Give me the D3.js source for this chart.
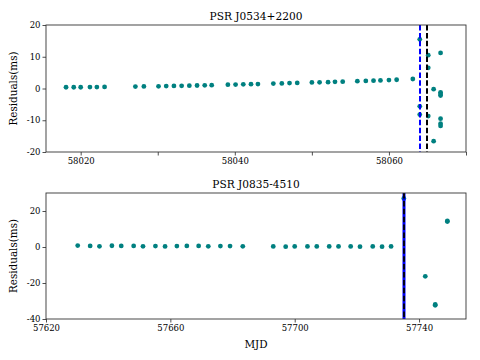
<!DOCTYPE html>
<html><head><meta charset="utf-8">
<script src="https://cdn.jsdelivr.net/npm/d3@7"></script>
<style>body{margin:0;background:#fff}svg{display:block}text{font-family:"DejaVu Serif",serif;fill:#000}</style>
</head><body><svg id="c" width="480" height="360"></svg>
<script>
// Panel 1: PSR J0534+2200
const crabMJD = [58018.1,58019.1,58020.0,58021.2,58022.1,58023.1,58027.1,58028.2,
  58030.1,58031.1,58032.1,58033.1,58034.1,58035.1,58036.1,58037.0,
  58039.1,58040.1,58041.1,58042.1,58043.0,58045.0,58046.1,58047.1,58048.1,
  58050.0,58051.0,58052.1,58053.0,58054.0,58055.9,58057.0,58058.0,58058.9,58060.0,58061.0,58063.1,
  58064.0,58064.0,58064.0,58065.1,58065.1,58065.1,58065.8,58065.8,
  58066.7,58066.7,58066.7,58066.7,58066.7,58066.7,58066.7];
const crabRes = [0.4,0.4,0.4,0.45,0.45,0.5,0.6,0.65,
  0.7,0.75,0.8,0.85,0.9,0.95,1.0,1.05,
  1.2,1.25,1.3,1.35,1.4,1.55,1.6,1.7,1.75,
  1.9,1.95,2.0,2.1,2.15,2.3,2.4,2.45,2.55,2.65,2.75,3.0,
  15.5,-5.6,-8.2,10.5,6.5,-8.7,-0.2,-16.6,
  11.2,-1.2,-1.7,-2.2,-9.5,-11.1,-11.8];
const crabLines = [{mjd:58064.0,color:"#0000ff"},{mjd:58065.0,color:"#000000"}];
const crabXTicks = [58020,58030,58040,58050,58060,58070];
const crabXLabels = ["58020","","58040","","58060",""];
const crabYTicks = [-20,-10,0,10,20];

// Panel 2: PSR J0835-4510
const velaMJD = [57630.2,57634.2,57637.2,57641.2,57644.2,57648.2,57651.2,57655.2,57658.3,57662.1,
  57665.3,57669.1,57672.2,57676.1,57679.2,57683.3,57693.1,57697.1,57700.0,57704.1,
  57707.1,57711.1,57714.1,57718.0,57721.0,57725.1,57728.1,57731.0,
  57735.1,57742.0,57745.2,57745.2,57749.1,57749.1];
const velaRes = [0.8,0.6,0.4,0.7,0.6,0.6,0.4,0.5,0.3,0.5,
  0.6,0.6,0.4,0.5,0.5,0.4,0.3,0.2,0.3,0.3,
  0.3,0.3,0.3,0.3,0.2,0.3,0.2,0.3,
  27.0,-16.3,-31.9,-32.4,14.1,14.5];
const velaLines = [{mjd:57735.1,color:"#0000ff"},{mjd:57735.0,color:"#000000"}];
const velaXTicks = [57620,57660,57700,57740];
const velaYTicks = [-40,-20,0,20];

const svg = d3.select("#c");
const L = 46, R = 466;

function panel(cfg){
  const g = svg.append("g");
  const x = d3.scaleLinear().domain(cfg.xdom).range([L,R]);
  const y = d3.scaleLinear().domain(cfg.ydom).range([cfg.bottom,cfg.top]);
  const clipId = "clip"+cfg.id;
  svg.append("clipPath").attr("id",clipId).append("rect")
    .attr("x",L).attr("y",cfg.top).attr("width",R-L).attr("height",cfg.bottom-cfg.top);
  const plot = g.append("g").attr("clip-path",`url(#${clipId})`);
  plot.selectAll("circle").data(cfg.mjd.map((d,i)=>[d,cfg.res[i]])).enter().append("circle")
    .attr("cx",d=>x(d[0])).attr("cy",d=>y(d[1])).attr("r",2.4).attr("fill","#008080");
  cfg.lines.forEach((l,i)=>{
    const xp = Math.round(x(l.mjd));
    plot.append("line").attr("x1",xp).attr("x2",xp)
      .attr("y1",cfg.top).attr("y2",cfg.bottom)
      .attr("stroke",l.color).attr("stroke-width",cfg.lw[i])
      .attr("stroke-dasharray",cfg.dash[i]);
  });
  const xa = d3.axisBottom(x).tickValues(cfg.xticks).tickSize(3.5).tickPadding(2)
    .tickFormat((d,i)=>cfg.xlabels ? cfg.xlabels[i] : String(d));
  const ya = d3.axisLeft(y).tickValues(cfg.yticks).tickSize(3.5).tickPadding(2).tickFormat(d=>String(d));
  const gx = g.append("g").attr("transform",`translate(0,${cfg.bottom})`).call(xa);
  const gy = g.append("g").attr("transform",`translate(${L},0)`).call(ya);
  [gx,gy].forEach(a=>{
    a.select(".domain").remove();
    a.selectAll("line").attr("stroke","#222").attr("stroke-width",0.8);
    a.selectAll("text").attr("font-family","DejaVu Serif").attr("font-size",8.5).attr("fill","#000");
  });
  g.append("rect").attr("x",L).attr("y",cfg.top).attr("width",R-L).attr("height",cfg.bottom-cfg.top)
    .attr("fill","none").attr("stroke","#333").attr("stroke-width",0.9);
  g.append("text").attr("x",(L+R)/2).attr("y",cfg.top-5).attr("text-anchor","middle")
    .attr("font-size",10.6).text(cfg.title);
  g.append("text").attr("transform",`translate(17,${(cfg.top+cfg.bottom)/2}) rotate(-90)`)
    .attr("text-anchor","middle").attr("font-size",10.4).text("Residuals(ms)");
}

panel({id:1,title:"PSR J0534+2200",xdom:[58015.5,58070],ydom:[-20,20],top:25,bottom:152,
  mjd:crabMJD,res:crabRes,lines:crabLines,xticks:crabXTicks,xlabels:crabXLabels,yticks:crabYTicks,
  lw:[2,2],dash:["5.5,2.4","5.5,2.4"]});
panel({id:2,title:"PSR J0835-4510",xdom:[57620,57755.1],ydom:[-40,30],top:193,bottom:319,
  mjd:velaMJD,res:velaRes,lines:velaLines,xticks:velaXTicks,yticks:velaYTicks,
  lw:[3,1.8],dash:["none","5.5,2.4"]});
svg.append("text").attr("x",(L+R)/2).attr("y",348).attr("text-anchor","middle")
  .attr("font-size",10.4).text("MJD");
</script></body></html>
